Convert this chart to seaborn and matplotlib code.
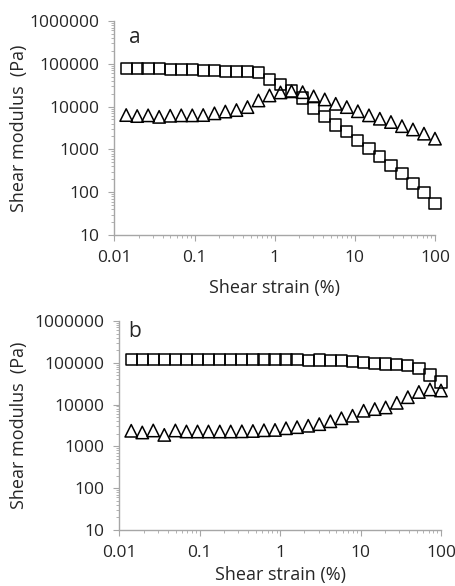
import numpy as np
import pandas as pd
import seaborn as sns
import matplotlib
import matplotlib.pyplot as plt
from matplotlib.ticker import FixedLocator, FixedFormatter, LogLocator, NullFormatter

matplotlib.use('Agg')

# Data (shear strain in %, moduli in Pa)
strain = [0.0140, 0.0192, 0.0263, 0.0361, 0.0496, 0.0681, 0.0935, 0.128, 0.177, 0.242,
          0.333, 0.457, 0.627, 0.861, 1.18, 1.62, 2.23, 3.06, 4.21, 5.77,
          7.93, 10.9, 15.0, 20.5, 28.2, 38.7, 53.1, 72.9, 100.0]

# panel a
storage_a = [78500, 78500, 78500, 78500, 74500, 74500, 74500, 70600, 70600, 67000,
             65200, 65200, 62000, 43600, 32500, 23200, 15900, 9300, 5900, 3700,
             2660, 1600, 1040, 676, 425, 277, 162, 98, 55]
loss_a = [6340, 6010, 6240, 5750, 6100, 6240, 6240, 6340, 6950, 7650,
          8290, 9730, 13900, 18200, 21400, 22700, 21700, 17300, 14700, 11600,
          9730, 7780, 6240, 5200, 4360, 3490, 2920, 2330, 1780]

# panel b
storage_b = [121000, 121000, 121000, 121000, 121000, 121000, 121000, 121000, 121000, 121000,
             121000, 121000, 121000, 120000, 121000, 118000, 115000, 117000, 113000, 112000,
             106000, 102000, 96000, 93500, 91000, 86000, 73000, 51000, 34800]
loss_b = [2360, 2150, 2400, 1880, 2400, 2270, 2270, 2270, 2270, 2270,
          2290, 2330, 2430, 2470, 2710, 2880, 3110, 3400, 3980, 4700,
          5400, 7110, 7800, 8530, 11000, 15000, 20000, 23000, 21700]

xticks = [0.01, 0.1, 1, 10, 100]
xtick_labels = ['0.01', '0.1', '1', '10', '100']
yticks = [10, 100, 1000, 10000, 100000, 1000000]
ytick_labels = ['10', '100', '1000', '10000', '100000', '1000000']

sns.set_style('white')
plt.rcParams['font.family'] = ['Open Sans', 'DejaVu Sans']

fig = plt.figure(figsize=(4.55, 5.86), dpi=100)
ax_a = fig.add_axes([0.2516, 0.599, 0.7044, 0.3652])
ax_b = fig.add_axes([0.2626, 0.0956, 0.7066, 0.3567])

axis_grey = '#a6a6a6'
text_col = '#262626'


def draw_panel(ax, storage, loss, letter, letter_pos, xlab_y, ylab_x):
    df = pd.DataFrame({'strain': strain, 'storage': storage, 'loss': loss})
    sns.scatterplot(data=df, x='strain', y='storage', marker='s', s=66,
                    facecolor='none', edgecolor='black', linewidth=1.1, ax=ax,
                    zorder=3, clip_on=False)
    sns.scatterplot(data=df, x='strain', y='loss', marker='^', s=80,
                    facecolor='none', edgecolor='black', linewidth=1.1, ax=ax,
                    zorder=3, clip_on=False)
    ax.set_xscale('log')
    ax.set_yscale('log')
    ax.set_xlim(0.01, 100)
    ax.set_ylim(10, 1000000)

    ax.xaxis.set_major_locator(FixedLocator(xticks))
    ax.xaxis.set_major_formatter(FixedFormatter(xtick_labels))
    ax.yaxis.set_major_locator(FixedLocator(yticks))
    ax.yaxis.set_major_formatter(FixedFormatter(ytick_labels))
    ax.xaxis.set_minor_locator(LogLocator(base=10, subs=range(2, 10), numticks=20))
    ax.yaxis.set_minor_locator(LogLocator(base=10, subs=range(2, 10), numticks=20))
    ax.xaxis.set_minor_formatter(NullFormatter())
    ax.yaxis.set_minor_formatter(NullFormatter())

    for side in ['top', 'right']:
        ax.spines[side].set_visible(False)
    for side in ['left', 'bottom']:
        ax.spines[side].set_color(axis_grey)
        ax.spines[side].set_linewidth(1.0)

    ax.tick_params(which='major', direction='out', length=4, width=0.8,
                   color=axis_grey, labelsize=12.5, labelcolor=text_col, pad=7,
                   left=True, bottom=True)
    ax.tick_params(which='minor', direction='out', length=2.5, width=0.6,
                   color=axis_grey, left=True, bottom=True)

    ax.set_xlabel('Shear strain (%)', fontsize=13, color=text_col)
    ax.set_ylabel('Shear modulus  (Pa)', fontsize=13, color=text_col)
    ax.xaxis.set_label_coords(0.5, xlab_y)
    ax.yaxis.set_label_coords(ylab_x, 0.5)
    ax.text(letter_pos[0], letter_pos[1], letter, transform=ax.transAxes,
            fontsize=15, color=text_col, va='baseline', ha='left')


draw_panel(ax_a, storage_a, loss_a, 'a', (0.045, 0.897), -0.206, -0.27)
draw_panel(ax_b, storage_b, loss_b, 'b', (0.026, 0.923), -0.172, -0.285)

fig.savefig('out.png', dpi=100)
